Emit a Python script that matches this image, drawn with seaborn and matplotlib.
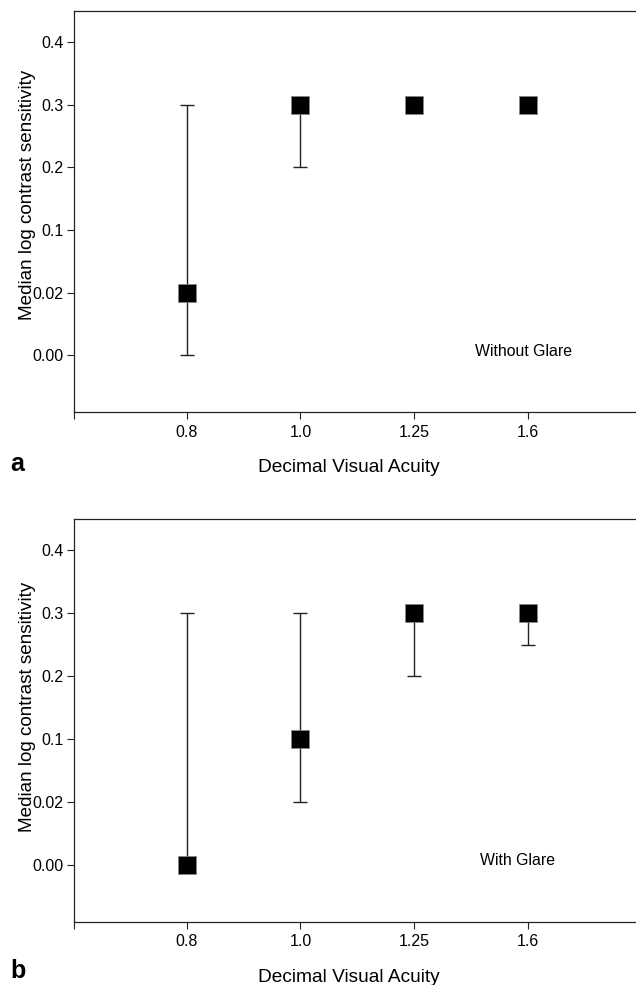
import numpy as np
import pandas as pd
import seaborn as sns
import matplotlib.pyplot as plt

# data
acuity = ['0.8', '1.0', '1.25', '1.6']
y_ticks = [0.0, 0.02, 0.1, 0.2, 0.3, 0.4]
y_tick_labels = ['0.00', '0.02', '0.1', '0.2', '0.3', '0.4']

med_no_glare = [0.02, 0.3, 0.3, 0.3]
low_no_glare = [0.0, 0.2, 0.3, 0.3]
high_no_glare = [0.3, 0.3, 0.3, 0.3]

med_glare = [0.0, 0.1, 0.3, 0.3]
low_glare = [0.0, 0.02, 0.2, 0.25]
high_glare = [0.3, 0.3, 0.3, 0.3]

sns.set_theme(style='ticks')
plt.rcParams['font.family'] = ['Liberation Sans', 'DejaVu Sans']
line_col = '#222222'

# the y axis is ordinal: equal spacing between the tick values
tv = np.array(y_ticks)
tp = np.arange(len(tv), dtype=float)


def fwd(v):
    v = np.asarray(v, dtype=float)
    out = np.interp(v, tv, tp)
    out = np.where(v < tv[0], (v - tv[0]) / (tv[1] - tv[0]), out)
    out = np.where(v > tv[-1], tp[-1] + (v - tv[-1]) / (tv[-1] - tv[-2]), out)
    return out


def inv(p):
    p = np.asarray(p, dtype=float)
    out = np.interp(p, tp, tv)
    out = np.where(p < tp[0], tv[0] + p * (tv[1] - tv[0]), out)
    out = np.where(p > tp[-1], tv[-1] + (p - tp[-1]) * (tv[-1] - tv[-2]), out)
    return out


fig = plt.figure(figsize=(6.36, 9.85), dpi=100)
ax_a = fig.add_axes([0.1164, 0.5817, 0.8836, 0.4071])
ax_b = fig.add_axes([0.1164, 0.0640, 0.8836, 0.4091])

panels = [
    (ax_a, med_no_glare, low_no_glare, high_no_glare, 'Without Glare', 'a', 0.541, 0.7135, -0.147),
    (ax_b, med_glare, low_glare, high_glare, 'With Glare', 'b', 0.533, 0.7224, -0.140),
]

for ax, med, low, high, note, letter, ylab_y, note_x, letter_y in panels:
    df = pd.DataFrame({'acuity': acuity, 'median': med, 'low': low, 'high': high})
    ax.set_yscale('function', functions=(fwd, inv))

    ax.errorbar(df['acuity'], df['median'],
                yerr=[df['median'] - df['low'], df['high'] - df['median']],
                fmt='none', ecolor=line_col, elinewidth=1.0, capsize=4.8,
                capthick=1.0, zorder=2)
    sns.scatterplot(data=df, x='acuity', y='median', marker='s', s=172,
                    color='black', edgecolor='#888888', linewidth=0.5,
                    ax=ax, zorder=3, legend=False)

    ax.set_xlim(-0.99, 3.95)
    ax.set_ylim(float(inv(-0.91)), float(inv(5.5)))
    ax.set_yticks(y_ticks)
    ax.set_yticklabels(y_tick_labels)
    ax.minorticks_off()
    ax.set_xticks([-0.99], minor=True)

    ax.tick_params(axis='both', which='both', direction='out', length=5,
                   width=0.8, color=line_col, labelsize=11.5, pad=2.5,
                   labelcolor='black')
    ax.tick_params(axis='x', pad=4)

    for side in ['top', 'left', 'bottom']:
        ax.spines[side].set_color(line_col)
        ax.spines[side].set_linewidth(0.9)
    ax.spines['right'].set_visible(False)

    ax.set_xlabel('Decimal Visual Acuity', fontsize=13.8, color='black')
    ax.xaxis.label.set_va('baseline')
    ax.xaxis.set_label_coords(0.489, -0.150)
    ax.set_ylabel('Median log contrast sensitivity', fontsize=13.6, color='black')
    ax.yaxis.label.set_va('baseline')
    ax.yaxis.set_label_coords(-0.0756, ylab_y)

    ax.text(note_x, 0.152, note, transform=ax.transAxes, fontsize=11.4,
            va='center', ha='left', color='black')
    ax.text(-0.114, letter_y, letter, transform=ax.transAxes, fontsize=18,
            fontweight='bold', va='baseline', ha='left', color='black')

fig.savefig('out.png', dpi=100, facecolor='white')
